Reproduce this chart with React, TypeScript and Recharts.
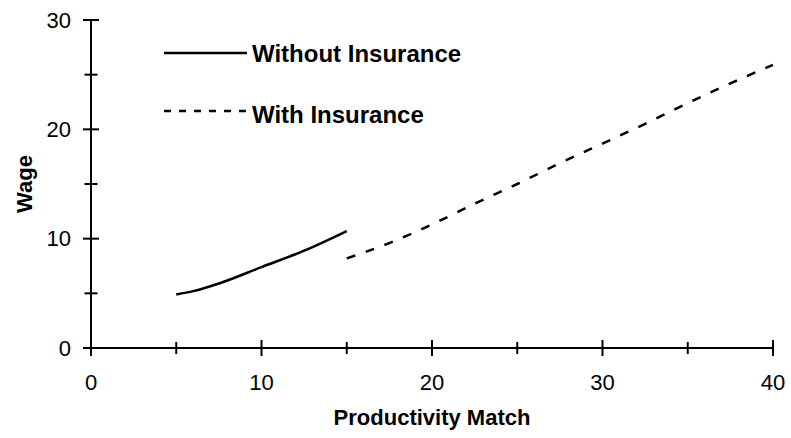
import { LineChart, Line, XAxis, YAxis, Legend } from 'recharts';

// productivity match (x) and wage (y)
const withoutMatch = [5, 6, 7.5, 10, 12.5, 15];
const withoutWage = [4.9, 5.2, 5.9, 7.4, 8.9, 10.7];
const withMatch = [15, 17.5, 20, 22.5, 25, 27.5, 30, 32.5, 35, 37.5, 40];
const withWage = [8.2, 9.6, 11.3, 13.2, 15.0, 16.9, 18.7, 20.5, 22.4, 24.2, 25.9];

const xTicks = [0, 5, 10, 15, 20, 25, 30, 35, 40];
const yTicks = [0, 5, 10, 15, 20, 25, 30];
const labelledX = [0, 10, 20, 30, 40];
const labelledY = [0, 10, 20, 30];

const seriesNames = ['Without Insurance', 'With Insurance'];

const withoutData = withoutMatch.map((x, i) => ({ x, wage: withoutWage[i] }));
const withData = withMatch.map((x, i) => ({ x, wage: withWage[i] }));

const FONT = '"Liberation Sans", Arial, sans-serif';

const XTick = (props: any) => {
  const { x, y, payload } = props;
  const major = labelledX.includes(payload.value);
  const len = major ? 8 : 6;
  return (
    <g>
      <line x1={x} y1={y - len} x2={x} y2={y + len} stroke='#000' strokeWidth={2} />
      {major && (
        <text
          x={x}
          y={y + 34}
          textAnchor='middle'
          dominantBaseline='central'
          fontSize={22}
          fontFamily={FONT}
          fill='#000'
        >
          {payload.value}
        </text>
      )}
    </g>
  );
};

const YTick = (props: any) => {
  const { x, y, payload } = props;
  const major = labelledY.includes(payload.value);
  const len = major ? 8 : 6.5;
  return (
    <g>
      <line x1={x - len} y1={y} x2={x + len} y2={y} stroke='#000' strokeWidth={2} />
      {major && (
        <text
          x={x - 20}
          y={y}
          textAnchor='end'
          dominantBaseline='central'
          fontSize={22}
          fontFamily={FONT}
          fill='#000'
        >
          {payload.value}
        </text>
      )}
    </g>
  );
};

const XTitle = ({ viewBox }: any) => (
  <text
    x={viewBox.x + viewBox.width / 2}
    y={viewBox.y + 77}
    textAnchor='middle'
    fontSize={22}
    fontWeight='bold'
    fontFamily={FONT}
    fill='#000'
  >
    Productivity Match
  </text>
);

const YTitle = ({ viewBox }: any) => {
  const cx = viewBox.x + 24;
  const cy = viewBox.y + viewBox.height / 2;
  return (
    <text
      x={cx}
      y={cy}
      transform={`rotate(-90, ${cx}, ${cy})`}
      textAnchor='middle'
      dominantBaseline='central'
      fontSize={22}
      fontWeight='bold'
      fontFamily={FONT}
      fill='#000'
    >
      Wage
    </text>
  );
};

const LegendContent = () => (
  <svg width={320} height={95}>
    <line x1={0} y1={15} x2={83} y2={15} stroke='#000' strokeWidth={2.5} />
    <text x={88} y={15} dominantBaseline='central' fontSize={24} fontWeight='bold' fontFamily={FONT}>
      {seriesNames[0]}
    </text>
    <line x1={0} y1={73} x2={83} y2={73} stroke='#000' strokeWidth={2.5} strokeDasharray='7 8' />
    <text x={88} y={76} dominantBaseline='central' fontSize={24} fontWeight='bold' fontFamily={FONT}>
      {seriesNames[1]}
    </text>
  </svg>
);

export default function App() {
  return (
    <div style={{ position: 'absolute', left: 0, top: 0, background: '#fff' }}>
      <LineChart
        width={791}
        height={438}
        margin={{ top: 20, right: 18, bottom: 30, left: 0 }}
      >
        <XAxis
          dataKey='x'
          type='number'
          domain={[0, 40]}
          ticks={xTicks}
          interval={0}
          allowDuplicatedCategory={false}
          height={60}
          tickSize={0}
          tickMargin={0}
          tickLine={false}
          axisLine={{ stroke: '#000', strokeWidth: 2 }}
          tick={<XTick />}
          label={{ content: XTitle }}
        />
        <YAxis
          type='number'
          domain={[0, 30]}
          ticks={yTicks}
          interval={0}
          width={91}
          tickSize={0}
          tickMargin={0}
          tickLine={false}
          axisLine={{ stroke: '#000', strokeWidth: 2 }}
          tick={<YTick />}
          label={{ content: YTitle }}
        />
        <Legend
          layout='vertical'
          align='center'
          verticalAlign='middle'
          content={<LegendContent />}
          wrapperStyle={{ left: 164, top: 38, width: 320, height: 95 }}
        />
        <Line
          data={withoutData}
          dataKey='wage'
          name={seriesNames[0]}
          type='monotone'
          stroke='#000'
          strokeWidth={2.5}
          dot={false}
          activeDot={false}
          isAnimationActive={false}
        />
        <Line
          data={withData}
          dataKey='wage'
          name={seriesNames[1]}
          type='monotone'
          stroke='#000'
          strokeWidth={2.5}
          strokeDasharray='9 11'
          dot={false}
          activeDot={false}
          isAnimationActive={false}
        />
      </LineChart>
    </div>
  );
}
